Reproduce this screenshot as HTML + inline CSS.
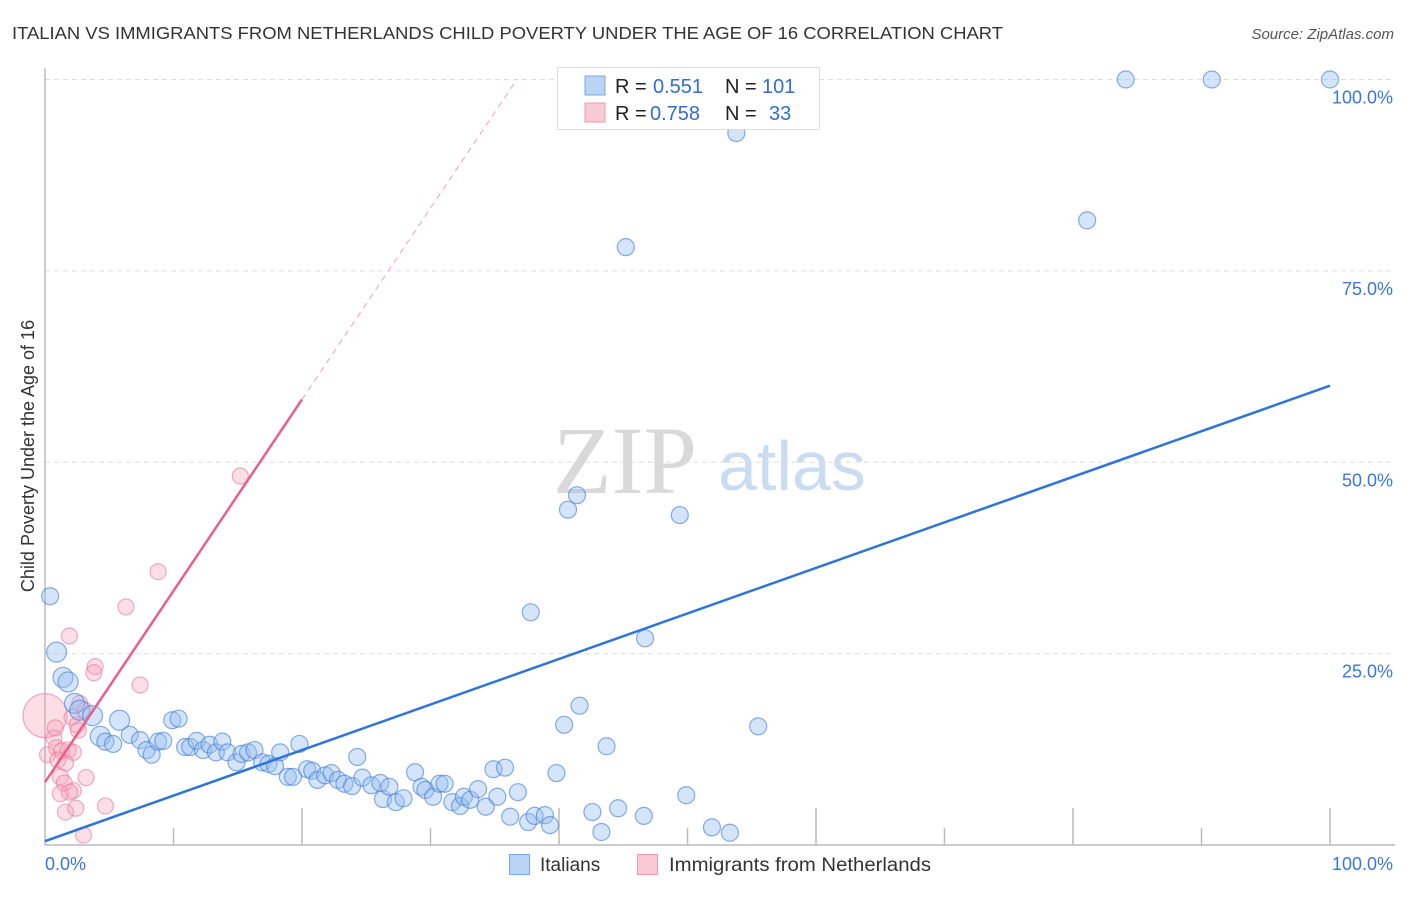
<!DOCTYPE html>
<html><head><meta charset="utf-8"><style>
body{margin:0;background:#fff;width:1406px;height:892px;overflow:hidden;font-family:"Liberation Sans",sans-serif}
</style></head><body>
<svg id="c" width="1406" height="892" xmlns="http://www.w3.org/2000/svg">
<text x="12" y="39" font-size="17.5" fill="#333" textLength="991" lengthAdjust="spacingAndGlyphs">ITALIAN VS IMMIGRANTS FROM NETHERLANDS CHILD POVERTY UNDER THE AGE OF 16 CORRELATION CHART</text>
<text x="1394" y="39" font-size="15" fill="#555" text-anchor="end" font-style="italic">Source: ZipAtlas.com</text>
<text x="34" y="456" font-size="18" fill="#333" text-anchor="middle" transform="rotate(-90 34 456)">Child Poverty Under the Age of 16</text>
<g>
<text x="553" y="493" font-size="96" fill="#d9d9d9" font-family="Liberation Serif,serif">ZIP</text>
<text x="718" y="490" font-size="70" fill="#c9dcf2">atlas</text>
</g>
<g id="grid"></g><g id="marks"></g><g id="lines"></g>
<g>
<rect x="557.5" y="67.5" width="262" height="62" fill="#fff" stroke="#ddd"/>
<rect x="585" y="76" width="20" height="19" fill="#b9d3f5" stroke="#7aa7e6"/>
<rect x="585" y="103" width="20" height="19" fill="#f9c9d6" stroke="#eb9ab2"/>
<text x="615" y="93" font-size="20" fill="#222">R = </text><text x="653" y="93" font-size="20" fill="#2f6fd0">0.551</text>
<text x="725" y="93" font-size="20" fill="#222">N = </text><text x="762" y="93" font-size="20" fill="#2f6fd0">101</text>
<text x="615" y="120" font-size="20" fill="#222">R = </text><text x="650" y="120" font-size="20" fill="#2f6fd0">0.758</text>
<text x="725" y="120" font-size="20" fill="#222">N = </text><text x="769" y="120" font-size="20" fill="#2f6fd0">33</text>
</g>
<g>
<rect x="509.5" y="854.5" width="20" height="20" fill="#b9d3f5" stroke="#7aa7e6"/>
<text x="540" y="871" font-size="19" fill="#333">Italians</text>
<rect x="637.5" y="854.5" width="20" height="20" fill="#f9c9d6" stroke="#eb9ab2"/>
<text x="669" y="871" font-size="19" fill="#333" textLength="262" lengthAdjust="spacingAndGlyphs">Immigrants from Netherlands</text>
</g>
</svg>
<script>
const yTicks=[25,50,75,100];
const yTickLabels=["25.0%","50.0%","75.0%","100.0%"];
const xTickLabels=["0.0%","100.0%"];
const blueX=[0.4,0.9,1.4,1.8,2.3,2.7,3.7,5.8,4.3,4.7,
5.3,6.6,7.4,7.9,8.3,8.8,9.2,9.9,10.4,10.9,
11.3,11.8,12.3,12.8,13.3,13.8,14.2,14.9,15.3,15.8,
16.3,16.9,17.4,17.9,18.3,18.9,19.3,19.8,20.4,20.8,
21.2,21.8,22.3,22.8,23.3,23.9,24.3,24.7,25.4,26.1,
26.3,26.8,27.3,27.9,28.8,29.3,29.6,30.2,30.7,31.1,
31.7,32.3,32.6,33.1,33.7,34.3,35.2,34.9,35.8,36.2,
36.8,37.6,38.1,38.9,39.3,39.8,40.4,41.6,42.6,43.3,
43.7,44.6,46.6,49.9,51.9,53.3,55.5,37.8,40.7,41.4,
45.2,46.7,49.4,53.8,81.1,84.1,90.8,100];
const blueY=[32.5,25.2,21.9,21.3,18.5,17.6,16.9,16.3,14.2,13.5,
13.2,14.4,13.7,12.4,11.8,13.5,13.6,16.3,16.5,12.8,
12.8,13.6,12.4,13.1,12.1,13.5,12.1,10.8,11.9,12.1,
12.4,10.8,10.6,10.3,12.1,8.9,8.9,13.2,9.9,9.7,
8.5,9.1,9.4,8.5,8.0,7.7,11.5,8.8,7.8,8.1,
6.0,7.6,5.6,6.1,9.5,7.6,7.2,6.3,8.0,8.0,
5.6,5.1,6.3,5.9,7.3,5.0,6.3,9.9,10.1,3.7,
6.9,3.0,3.8,3.9,2.6,9.4,15.7,18.2,4.3,1.7,
12.9,4.8,3.8,6.5,2.3,1.6,15.5,30.4,43.8,45.7,
78.1,27.0,43.1,93.0,81.6,100,100,100];
const bigBlue=[1,2,3,4,5,6,7,8];
const pinkX=[0,15.2,8.8,6.3,1.9,3.9,3.8,7.4,2.7,3.1,2.1,2.5,0.7,0.9,1.3,1.8,2.2,0.2,1.0,1.6,1.2,1.5,1.2,2.2,1.9,1.6,2.4,3.2,4.7,3.0,0.8,2.6];
const pinkY=[16.9,48.2,35.7,31.1,27.3,23.3,22.5,20.9,18.5,17.6,16.7,15.7,14.0,12.7,12.3,12.4,12.1,11.8,11.1,10.7,8.9,8.1,6.7,7.1,6.9,4.3,4.8,8.8,5.1,1.3,15.3,15.0];
const blueFit=[0.5,60];
const pinkFit=[8.2,2.5];
const NS="http://www.w3.org/2000/svg";
const X=v=>45+v*12.85, Y=v=>845-v*7.655;
function mk(tag,attrs,parent){const e=document.createElementNS(NS,tag);for(const k in attrs)e.setAttribute(k,attrs[k]);document.getElementById(parent).appendChild(e);return e;}
yTicks.forEach((t,i)=>{
 const g=mk('line',{x1:45,x2:1395,y1:Y(t),y2:Y(t),stroke:'#ddd','stroke-dasharray':'5,4'},'grid');
 
 
 const l=mk('text',{x:1393,y:Y(t)+24,'font-size':18,fill:'#3a78d6','text-anchor':'end'},'grid');
 l.textContent=yTickLabels[i];
 
 
});
const ax=mk('path',{d:'M45 68V845H1395',stroke:'#bbb',fill:'none','stroke-width':1.5},'grid');


for(let i=1;i<=10;i++){
 const t=mk('line',{x1:X(i*10),x2:X(i*10),y1:845,y2:(i%2==0?808:828),stroke:'#bbb','stroke-width':1.5},'grid');
 
 
}
const xl0=mk('text',{x:45,y:870,'font-size':18,fill:'#3a78d6'},'grid');xl0.textContent=xTickLabels[0];


const xl1=mk('text',{x:1393,y:870,'font-size':18,fill:'#3a78d6','text-anchor':'end'},'grid');xl1.textContent=xTickLabels[1];


pinkX.forEach((v,i)=>{
 const c=mk('circle',{cx:X(v),cy:Y(pinkY[i]),r:(i==0?22:8),fill:'rgba(245,160,185,0.35)',stroke:'rgba(232,120,155,0.6)','stroke-width':1.2},'marks');
 
 
});
blueX.forEach((v,i)=>{
 const c=mk('circle',{cx:X(v),cy:Y(blueY[i]),r:(bigBlue.includes(i)?10:8.5),fill:'rgba(150,190,240,0.4)',stroke:'rgba(60,120,215,0.6)','stroke-width':1.2},'marks');
 
 
});
const bl=mk('line',{x1:X(0),y1:Y(blueFit[0]),x2:X(100),y2:Y(blueFit[1]),stroke:'#2f74d8','stroke-width':2.5},'lines');


const pl=mk('line',{x1:X(0),y1:Y(pinkFit[0]),x2:X(20),y2:Y(pinkFit[0]+20*pinkFit[1]),stroke:'#e8608a','stroke-width':2.5},'lines');


const xe=(100-pinkFit[0])/pinkFit[1];
const pd=mk('line',{x1:X(20),y1:Y(pinkFit[0]+20*pinkFit[1]),x2:X(xe),y2:Y(100),stroke:'#eaa0b8','stroke-width':1,'stroke-dasharray':'6,5'},'lines');


</script>
</body></html>
